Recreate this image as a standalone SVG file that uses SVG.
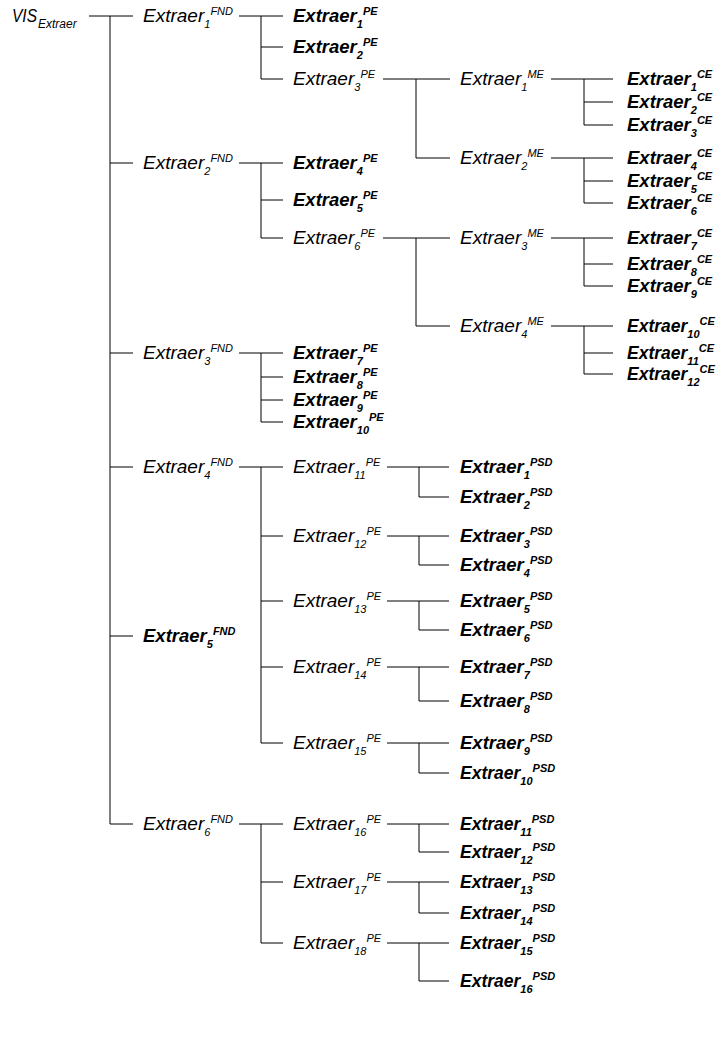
<svg xmlns="http://www.w3.org/2000/svg" width="718" height="1047" viewBox="0 0 718 1047">
<style>
.t{font-family:"Liberation Sans",Arial,Helvetica,sans-serif;font-style:italic;font-size:19px;fill:#000}
.b{font-weight:bold;font-size:18.5px}
.n{font-size:17.5px}
.s{font-size:11px}
.v{font-size:12px}
.c{fill:none;stroke:#000;stroke-width:1}
</style>
<rect width="718" height="1047" fill="#fff"/>
<g id="connectors">
<path class="c" d="M89 16H133 M110 16V824 M110 163H133 M110 353H133 M110 467H133 M110 636H133 M110 824H133
M239 16H283 M261 16V79 M261 47H283 M261 79H283
M239 163H283 M261 163V238 M261 200H283 M261 238H283
M239 353H283 M261 353V422 M261 377H283 M261 400H283 M261 422H283
M239 467H283 M261 467V743 M261 536H283 M261 601H283 M261 667H283 M261 743H283
M239 824H283 M261 824V943 M261 882H283 M261 943H283
M383 79H450 M416 79V158 M416 158H450
M383 238H450 M416 238V326 M416 326H450
M551 79H613 M584 79V125 M584 102H613 M584 125H613
M551 158H613 M584 158V203 M584 181H613 M584 203H613
M551 238H613 M584 238V286 M584 264H613 M584 286H613
M551 326H613 M584 326V374 M584 353H613 M584 374H613
M387 467H449 M419 467V497H449
M387 536H449 M419 536V565H449
M387 601H449 M419 601V630H449
M387 667H449 M419 667V701H449
M387 743H449 M419 743V773H449
M387 824H449 M419 824V852H449
M387 882H449 M419 882V913H449
M387 943H449 M419 943V981H449"/>
</g>
<g id="vis"><text class="t" x="12" y="22" textLength="25" lengthAdjust="spacingAndGlyphs">VIS</text><text class="t v" x="38" y="28">Extraer</text></g>
<g id="fnd1"><text class="t" x="143" y="22">Extraer<tspan class="s" dy="5.5">1</tspan><tspan class="s" dy="-12.5">FND</tspan></text></g>
<g id="fnd2"><text class="t" x="143" y="169">Extraer<tspan class="s" dy="5.5">2</tspan><tspan class="s" dy="-12.5">FND</tspan></text></g>
<g id="fnd3"><text class="t" x="143" y="359">Extraer<tspan class="s" dy="5.5">3</tspan><tspan class="s" dy="-12.5">FND</tspan></text></g>
<g id="fnd4"><text class="t" x="143" y="473">Extraer<tspan class="s" dy="5.5">4</tspan><tspan class="s" dy="-12.5">FND</tspan></text></g>
<g id="fnd5"><text class="t b" x="143" y="642">Extraer<tspan class="s" dy="5.5">5</tspan><tspan class="s" dy="-12.5">FND</tspan></text></g>
<g id="fnd6"><text class="t" x="143" y="830">Extraer<tspan class="s" dy="5.5">6</tspan><tspan class="s" dy="-12.5">FND</tspan></text></g>
<g id="pe1"><text class="t b" x="293" y="22">Extraer<tspan class="s" dy="5.5">1</tspan><tspan class="s" dy="-12.5">PE</tspan></text></g>
<g id="pe2"><text class="t b" x="293" y="53">Extraer<tspan class="s" dy="5.5">2</tspan><tspan class="s" dy="-12.5">PE</tspan></text></g>
<g id="pe3"><text class="t" x="293" y="85">Extraer<tspan class="s" dy="5.5">3</tspan><tspan class="s" dy="-12.5">PE</tspan></text></g>
<g id="pe4"><text class="t b" x="293" y="169">Extraer<tspan class="s" dy="5.5">4</tspan><tspan class="s" dy="-12.5">PE</tspan></text></g>
<g id="pe5"><text class="t b" x="293" y="206">Extraer<tspan class="s" dy="5.5">5</tspan><tspan class="s" dy="-12.5">PE</tspan></text></g>
<g id="pe6"><text class="t" x="293" y="244">Extraer<tspan class="s" dy="5.5">6</tspan><tspan class="s" dy="-12.5">PE</tspan></text></g>
<g id="pe7"><text class="t b" x="293" y="359">Extraer<tspan class="s" dy="5.5">7</tspan><tspan class="s" dy="-12.5">PE</tspan></text></g>
<g id="pe8"><text class="t b" x="293" y="383">Extraer<tspan class="s" dy="5.5">8</tspan><tspan class="s" dy="-12.5">PE</tspan></text></g>
<g id="pe9"><text class="t b" x="293" y="406">Extraer<tspan class="s" dy="5.5">9</tspan><tspan class="s" dy="-12.5">PE</tspan></text></g>
<g id="pe10"><text class="t b" x="293" y="428">Extraer<tspan class="s" dy="5.5">10</tspan><tspan class="s" dy="-12.5">PE</tspan></text></g>
<g id="pe11"><text class="t" x="293" y="473">Extraer<tspan class="s" dy="5.5">11</tspan><tspan class="s" dy="-12.5">PE</tspan></text></g>
<g id="pe12"><text class="t" x="293" y="542">Extraer<tspan class="s" dy="5.5">12</tspan><tspan class="s" dy="-12.5">PE</tspan></text></g>
<g id="pe13"><text class="t" x="293" y="607">Extraer<tspan class="s" dy="5.5">13</tspan><tspan class="s" dy="-12.5">PE</tspan></text></g>
<g id="pe14"><text class="t" x="293" y="673">Extraer<tspan class="s" dy="5.5">14</tspan><tspan class="s" dy="-12.5">PE</tspan></text></g>
<g id="pe15"><text class="t" x="293" y="749">Extraer<tspan class="s" dy="5.5">15</tspan><tspan class="s" dy="-12.5">PE</tspan></text></g>
<g id="pe16"><text class="t" x="293" y="830">Extraer<tspan class="s" dy="5.5">16</tspan><tspan class="s" dy="-12.5">PE</tspan></text></g>
<g id="pe17"><text class="t" x="293" y="888">Extraer<tspan class="s" dy="5.5">17</tspan><tspan class="s" dy="-12.5">PE</tspan></text></g>
<g id="pe18"><text class="t" x="293" y="949">Extraer<tspan class="s" dy="5.5">18</tspan><tspan class="s" dy="-12.5">PE</tspan></text></g>
<g id="me1"><text class="t" x="460" y="85">Extraer<tspan class="s" dy="5.5">1</tspan><tspan class="s" dy="-12.5">ME</tspan></text></g>
<g id="me2"><text class="t" x="460" y="164">Extraer<tspan class="s" dy="5.5">2</tspan><tspan class="s" dy="-12.5">ME</tspan></text></g>
<g id="me3"><text class="t" x="460" y="244">Extraer<tspan class="s" dy="5.5">3</tspan><tspan class="s" dy="-12.5">ME</tspan></text></g>
<g id="me4"><text class="t" x="460" y="332">Extraer<tspan class="s" dy="5.5">4</tspan><tspan class="s" dy="-12.5">ME</tspan></text></g>
<g id="ce1"><text class="t b" x="627" y="85">Extraer<tspan class="s" dy="5.5">1</tspan><tspan class="s" dy="-12.5">CE</tspan></text></g>
<g id="ce2"><text class="t b" x="627" y="108">Extraer<tspan class="s" dy="5.5">2</tspan><tspan class="s" dy="-12.5">CE</tspan></text></g>
<g id="ce3"><text class="t b" x="627" y="131">Extraer<tspan class="s" dy="5.5">3</tspan><tspan class="s" dy="-12.5">CE</tspan></text></g>
<g id="ce4"><text class="t b" x="627" y="164">Extraer<tspan class="s" dy="5.5">4</tspan><tspan class="s" dy="-12.5">CE</tspan></text></g>
<g id="ce5"><text class="t b" x="627" y="187">Extraer<tspan class="s" dy="5.5">5</tspan><tspan class="s" dy="-12.5">CE</tspan></text></g>
<g id="ce6"><text class="t b" x="627" y="209">Extraer<tspan class="s" dy="5.5">6</tspan><tspan class="s" dy="-12.5">CE</tspan></text></g>
<g id="ce7"><text class="t b" x="627" y="244">Extraer<tspan class="s" dy="5.5">7</tspan><tspan class="s" dy="-12.5">CE</tspan></text></g>
<g id="ce8"><text class="t b" x="627" y="270">Extraer<tspan class="s" dy="5.5">8</tspan><tspan class="s" dy="-12.5">CE</tspan></text></g>
<g id="ce9"><text class="t b" x="627" y="292">Extraer<tspan class="s" dy="5.5">9</tspan><tspan class="s" dy="-12.5">CE</tspan></text></g>
<g id="ce10"><text class="t b n" x="627" y="332">Extraer<tspan class="s" dy="5.5">10</tspan><tspan class="s" dy="-12.5">CE</tspan></text></g>
<g id="ce11"><text class="t b n" x="627" y="359">Extraer<tspan class="s" dy="5.5">11</tspan><tspan class="s" dy="-12.5">CE</tspan></text></g>
<g id="ce12"><text class="t b n" x="627" y="380">Extraer<tspan class="s" dy="5.5">12</tspan><tspan class="s" dy="-12.5">CE</tspan></text></g>
<g id="psd1"><text class="t b" x="460" y="473">Extraer<tspan class="s" dy="5.5">1</tspan><tspan class="s" dy="-12.5">PSD</tspan></text></g>
<g id="psd2"><text class="t b" x="460" y="503">Extraer<tspan class="s" dy="5.5">2</tspan><tspan class="s" dy="-12.5">PSD</tspan></text></g>
<g id="psd3"><text class="t b" x="460" y="542">Extraer<tspan class="s" dy="5.5">3</tspan><tspan class="s" dy="-12.5">PSD</tspan></text></g>
<g id="psd4"><text class="t b" x="460" y="571">Extraer<tspan class="s" dy="5.5">4</tspan><tspan class="s" dy="-12.5">PSD</tspan></text></g>
<g id="psd5"><text class="t b" x="460" y="607">Extraer<tspan class="s" dy="5.5">5</tspan><tspan class="s" dy="-12.5">PSD</tspan></text></g>
<g id="psd6"><text class="t b" x="460" y="636">Extraer<tspan class="s" dy="5.5">6</tspan><tspan class="s" dy="-12.5">PSD</tspan></text></g>
<g id="psd7"><text class="t b" x="460" y="673">Extraer<tspan class="s" dy="5.5">7</tspan><tspan class="s" dy="-12.5">PSD</tspan></text></g>
<g id="psd8"><text class="t b" x="460" y="707">Extraer<tspan class="s" dy="5.5">8</tspan><tspan class="s" dy="-12.5">PSD</tspan></text></g>
<g id="psd9"><text class="t b" x="460" y="749">Extraer<tspan class="s" dy="5.5">9</tspan><tspan class="s" dy="-12.5">PSD</tspan></text></g>
<g id="psd10"><text class="t b n" x="460" y="779">Extraer<tspan class="s" dy="5.5">10</tspan><tspan class="s" dy="-12.5">PSD</tspan></text></g>
<g id="psd11"><text class="t b n" x="460" y="830">Extraer<tspan class="s" dy="5.5">11</tspan><tspan class="s" dy="-12.5">PSD</tspan></text></g>
<g id="psd12"><text class="t b n" x="460" y="858">Extraer<tspan class="s" dy="5.5">12</tspan><tspan class="s" dy="-12.5">PSD</tspan></text></g>
<g id="psd13"><text class="t b n" x="460" y="888">Extraer<tspan class="s" dy="5.5">13</tspan><tspan class="s" dy="-12.5">PSD</tspan></text></g>
<g id="psd14"><text class="t b n" x="460" y="919">Extraer<tspan class="s" dy="5.5">14</tspan><tspan class="s" dy="-12.5">PSD</tspan></text></g>
<g id="psd15"><text class="t b n" x="460" y="949">Extraer<tspan class="s" dy="5.5">15</tspan><tspan class="s" dy="-12.5">PSD</tspan></text></g>
<g id="psd16"><text class="t b n" x="460" y="987">Extraer<tspan class="s" dy="5.5">16</tspan><tspan class="s" dy="-12.5">PSD</tspan></text></g>
</svg>
